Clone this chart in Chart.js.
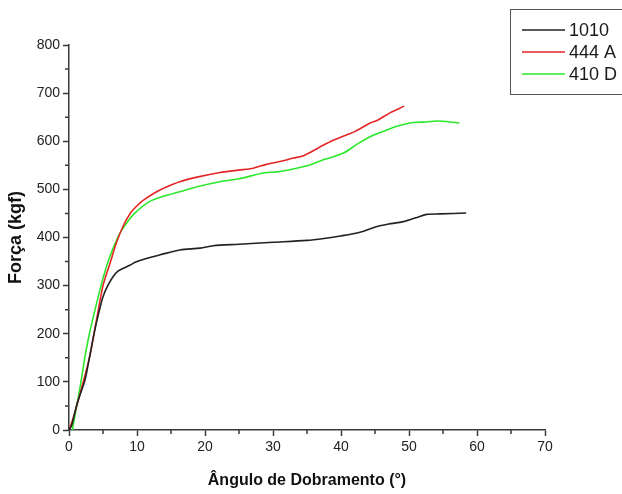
<!DOCTYPE html>
<html>
<head>
<meta charset="utf-8">
<script src="https://cdn.jsdelivr.net/npm/chart.js@4.4.0/dist/chart.umd.min.js"></script>
<style>
    html, body { margin: 0; padding: 0; background: #fff; }
    #wrap { width: 622px; height: 494px; position: relative; }
</style>
</head>
<body>
<div id="wrap"><canvas id="forca-chart"></canvas></div>
<script>
// ensaio de dobramento: ângulo (°) x força (kgf)
const seriesNames = ['1010', '444 A', '410 D'];
const seriesColors = ['#222222', '#e32626', '#2be82b'];

const angle1010 = [0, 0.4, 1.2, 2.35, 3.0, 3.8, 4.4, 5.0, 5.7, 6.5, 7.2, 8.0, 9.0, 10, 11.5, 13.4, 16.3, 19.3, 21.2, 25, 30, 35, 37.5, 39.9, 42.8, 45.3, 47, 49.2, 51, 52.6, 54.6, 58.4];
const force1010 = [0, 10, 55, 104, 150, 208, 245, 277, 300, 319, 330, 336, 343, 350, 357, 364, 374, 378, 383, 386, 390, 394, 398, 403, 411, 423, 428, 433, 441, 448, 449, 451];

const angle444A = [0, 0.5, 1.1, 2.0, 3.0, 4.0, 5.0, 6.0, 7.0, 8.0, 9.0, 10.0, 10.9, 12.5, 14, 16.3, 19, 22.2, 25, 27.1, 29, 31, 33, 34.5, 36.9, 38.4, 40.8, 42, 44.3, 45.3, 47.2, 49.3];
const force444A = [0, 20, 48, 95, 150, 225, 300, 345, 390, 425, 450, 466, 477, 492, 503, 516, 526, 535, 540, 544, 552, 558, 565, 570, 588, 599, 613, 620, 638, 643, 659, 673];

const angle410D = [0.5, 1.0, 1.7, 2.35, 3.0, 4.0, 5.0, 6.0, 7.5, 9.0, 10, 11.9, 14, 16.3, 19, 22.2, 25, 28.6, 31, 35, 37.5, 40.3, 42.5, 44.8, 46.5, 48.2, 50.6, 52.5, 54.1, 55.5, 57.4];
const force410D = [0, 40, 95, 152, 200, 260, 315, 360, 409, 440, 455, 475, 486, 495, 506, 516, 522, 534, 537, 549, 562, 575, 595, 613, 622, 631, 639, 640, 642, 641, 638];

const xTicks = { min: 0, max: 70, major: 10, minor: 5 };
const yTicks = { min: 0, max: 800, major: 100, minor: 50 };

const toPoints = (xs, ys) => xs.map((x, i) => ({ x: x, y: ys[i] }));

const allSeries = [
    toPoints(angle1010, force1010),
    toPoints(angle444A, force444A),
    toPoints(angle410D, force410D)
];

const axisColor = '#3a3a3a';
const fontFamily = '"Liberation Sans", Arial, sans-serif';

// traços menores entre os rótulos (mais curtos que os principais)
const minorTicks = {
    id: 'minorTicks',
    afterDraw(chart) {
        const c = chart.ctx;
        const xs = chart.scales.x, ys = chart.scales.y;
        c.save();
        c.strokeStyle = axisColor;
        c.lineWidth = 1.5;
        c.beginPath();
        for (let v = xTicks.min + xTicks.minor; v < xTicks.max; v += xTicks.major) {
            const px = xs.getPixelForValue(v);
            c.moveTo(px, xs.top);
            c.lineTo(px, xs.top + 4);
        }
        for (let v = yTicks.min + yTicks.minor; v < yTicks.max; v += yTicks.major) {
            const py = ys.getPixelForValue(v);
            c.moveTo(ys.right, py);
            c.lineTo(ys.right - 4, py);
        }
        c.stroke();
        c.restore();
    }
};

// legenda em caixa no canto superior direito
const boxLegend = {
    id: 'boxLegend',
    afterDraw(chart) {
        const c = chart.ctx;
        c.save();
        c.strokeStyle = '#555';
        c.lineWidth = 1;
        c.strokeRect(510.5, 9.5, 140, 85);
        c.font = '18px ' + fontFamily;
        c.textBaseline = 'middle';
        chart.data.datasets.forEach((ds, i) => {
            const y = 30 + i * 22;
            c.strokeStyle = ds.borderColor;
            c.lineWidth = 1.5;
            c.beginPath();
            c.moveTo(522, y);
            c.lineTo(565, y);
            c.stroke();
            c.fillStyle = '#1a1a1a';
            c.fillText(ds.label, 569, y + 1);
        });
        c.restore();
    }
};

new Chart(document.getElementById('forca-chart'), {
    type: 'line',
    data: {
        datasets: allSeries.map((pts, i) => ({
            label: seriesNames[i],
            data: pts,
            borderColor: seriesColors[i],
            backgroundColor: seriesColors[i],
            borderWidth: 1.6,
            pointRadius: 0,
            tension: 0.3,
            fill: false
        }))
    },
    options: {
        responsive: true,
        maintainAspectRatio: false,
        animation: false,
        layout: { padding: { top: 45, right: 77, left: 0, bottom: 0 } },
        plugins: {
            legend: { display: false },
            tooltip: { enabled: false }
        },
        scales: {
            x: {
                type: 'linear',
                min: xTicks.min,
                max: xTicks.max,
                afterFit: (scale) => { scale.height = 64; },
                border: { display: true, color: axisColor, width: 1.5 },
                grid: {
                    drawOnChartArea: false,
                    tickLength: 6,
                    tickWidth: 1.5,
                    tickColor: (ctx) => ctx.tick && ctx.tick.value % xTicks.major === 0 ? axisColor : 'rgba(0,0,0,0)'
                },
                ticks: {
                    stepSize: xTicks.minor,
                    autoSkip: false,
                    maxRotation: 0,
                    padding: 3,
                    color: '#222',
                    font: { family: fontFamily, size: 14 },
                    callback: (v) => v % xTicks.major === 0 ? v : ''
                },
                title: {
                    display: true,
                    text: 'Ângulo de Dobramento (°)',
                    color: '#111',
                    font: { family: fontFamily, size: 16, weight: 'bold' },
                    padding: { top: 12 }
                }
            },
            y: {
                type: 'linear',
                min: yTicks.min,
                max: yTicks.max,
                afterFit: (scale) => { scale.width = 69; },
                border: { display: true, color: axisColor, width: 1.5 },
                grid: {
                    drawOnChartArea: false,
                    tickLength: 6,
                    tickWidth: 1.5,
                    tickColor: (ctx) => ctx.tick && ctx.tick.value % yTicks.major === 0 ? axisColor : 'rgba(0,0,0,0)'
                },
                ticks: {
                    stepSize: yTicks.minor,
                    autoSkip: false,
                    padding: 3,
                    color: '#222',
                    font: { family: fontFamily, size: 14 },
                    callback: (v) => v % yTicks.major === 0 ? v : ''
                },
                title: {
                    display: true,
                    text: 'Força (kgf)',
                    color: '#111',
                    font: { family: fontFamily, size: 18, weight: 'bold' },
                    padding: { top: 5, bottom: 4 }
                }
            }
        }
    },
    plugins: [minorTicks, boxLegend]
});
</script>
</body>
</html>
